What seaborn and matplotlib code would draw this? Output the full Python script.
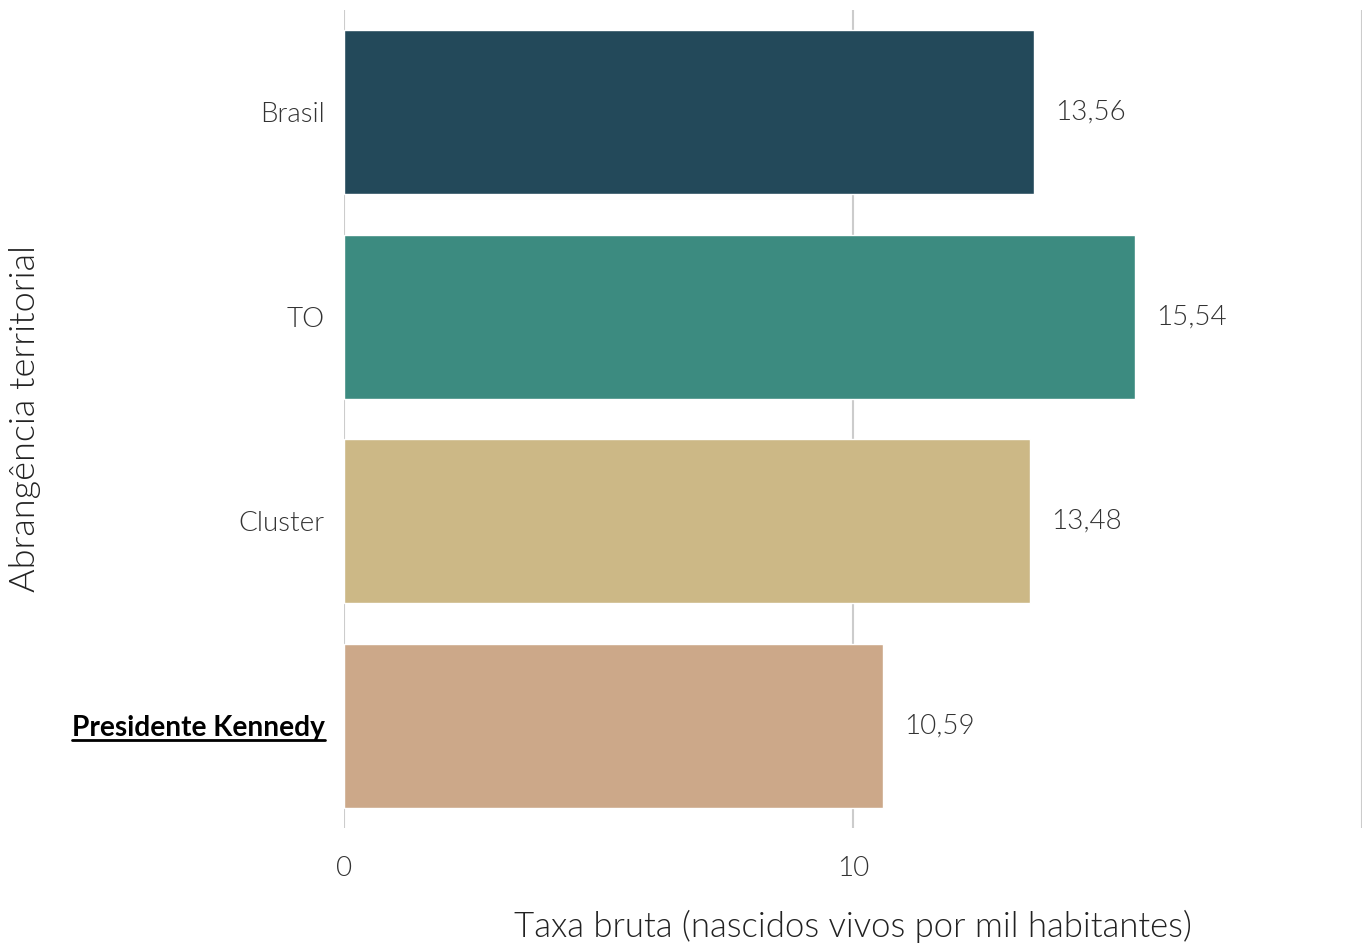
import matplotlib
matplotlib.use("Agg")
import matplotlib.pyplot as plt
import seaborn as sns
import pandas as pd
from matplotlib.lines import Line2D

# data
categorias = ["Brasil", "TO", "Cluster", "Presidente Kennedy"]
taxas = [13.56, 15.54, 13.48, 10.59]
cores = ["#23495A", "#3C8B80", "#CCB886", "#CCA889"]

df = pd.DataFrame({"categoria": categorias, "taxa": taxas})

sns.set_theme(style="white")
plt.rcParams["font.family"] = ["Lato", "DejaVu Sans"]

fig = plt.figure(figsize=(13.72, 9.44), dpi=100)
ax = fig.add_axes([0.2507, 0.1229, 0.7420, 0.8665])

sns.barplot(data=df, x="taxa", y="categoria", hue="categoria", palette=cores,
            legend=False, orient="h", width=0.8, saturation=1, ax=ax)

ax.set_xlim(0, 20)
ax.set_ylim(3.5, -0.5)
ax.set_xticks([0, 10, 20])
ax.set_xticklabels(["0", "10", ""])
ax.grid(axis="x", color="#cccccc", linewidth=1.5)
ax.set_axisbelow(True)
for s in ax.spines.values():
    s.set_visible(False)
ax.tick_params(axis="both", length=0, labelsize=20, labelcolor="#333333")
ax.tick_params(axis="y", pad=14)
ax.tick_params(axis="x", pad=20)
for lab in ax.get_xticklabels() + ax.get_yticklabels():
    lab.set_fontweight(300)

# highlight the municipality
destaque = ax.get_yticklabels()[-1]
destaque.set_fontweight("bold")
destaque.set_color("black")
destaque.set_fontsize(20.2)

# value labels
for i, v in enumerate(taxas):
    ax.annotate(f"{v:.2f}".replace(".", ","), xy=(v, i), xytext=(15, 0),
                textcoords="offset points", va="center", ha="left",
                fontsize=20, fontweight=300, color="#333333")

ax.set_xlabel("Taxa bruta (nascidos vivos por mil habitantes)", fontsize=25,
              fontweight=300, color="#222222", labelpad=21)
ax.set_ylabel("Abrangência territorial", fontsize=26, fontweight=300,
              color="#222222")
ax.yaxis.set_label_coords(-0.298, 0.5)

# underline the highlighted label
fig.canvas.draw()
bb = destaque.get_window_extent()
fig.add_artist(Line2D([bb.x0 / fig.dpi / 13.72, bb.x1 / fig.dpi / 13.72],
                      [(bb.y0 + 1) / fig.dpi / 9.44] * 2,
                      transform=fig.transFigure, color="black", linewidth=2))

plt.savefig("out.png", dpi=100)
